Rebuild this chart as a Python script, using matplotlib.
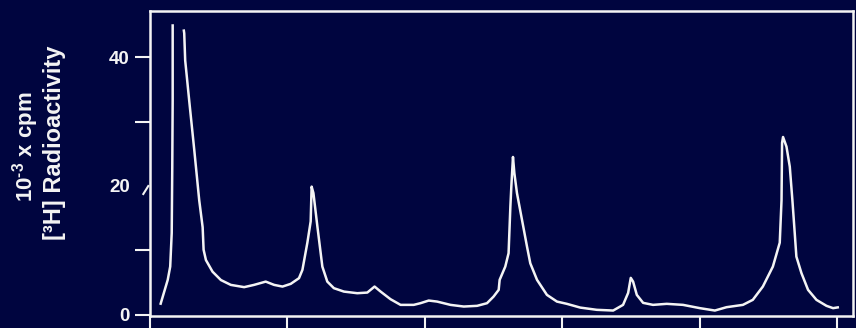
import numpy as np
import matplotlib
matplotlib.use("Agg")
import matplotlib.pyplot as plt
from matplotlib.lines import Line2D

plt.rcParams['font.family'] = ['Liberation Sans', 'DejaVu Sans']
plt.rcParams['mathtext.fontset'] = 'custom'
plt.rcParams['mathtext.rm'] = 'Liberation Sans:bold'
plt.rcParams['mathtext.bf'] = 'Liberation Sans:bold'
plt.rcParams['mathtext.it'] = 'Liberation Sans:bold'

# Fraction number (x) and radioactivity (10^-3 x cpm)
fraction = [0.75, 1.29, 1.47, 1.58, 1.62, 1.65, 1.65, 2.0,
            2.45, 2.49, 2.56, 2.85, 3.22, 3.58, 3.83, 3.90, 4.07, 4.55, 5.16, 5.88,
            6.85, 7.57, 8.42, 9.03, 9.64, 10.24, 10.84, 11.09, 11.45, 11.69, 11.76,
            11.89, 12.18, 12.54, 12.90, 13.38, 14.11, 15.08, 15.81, 16.05, 16.34,
            16.78, 17.50, 18.23, 19.19, 19.68, 20.28, 20.89, 21.86, 22.83, 23.80,
            24.52, 25.00, 25.37, 25.44, 25.85, 26.09, 26.22, 26.29, 26.41, 26.51,
            26.70, 27.07, 27.43, 27.67, 28.16, 28.88, 29.61, 30.33, 31.30, 32.51,
            33.70, 34.42, 34.79, 34.98, 35.15, 35.42, 35.88, 36.60, 37.60, 38.78,
            40.01, 41.10, 41.95, 43.14, 43.86, 44.59, 45.32, 45.82, 45.95, 45.99,
            46.06, 46.31, 46.55, 46.74, 46.91, 47.03, 47.40, 47.88, 48.49, 49.22,
            49.70, 50.13]
radioactivity = [1.55, 5.43, 7.49, 12.7, 22.9, 33.3, 45.1, np.nan,
                 44.3, 43.7, 39.5, 33.3, 25.6, 17.8, 13.6, 10.1, 8.5, 6.7, 5.4, 4.65,
                 4.3, 4.65, 5.16, 4.65, 4.39, 4.81, 5.69, 6.98, 11.2, 14.5, 19.9,
                 18.9, 13.7, 7.49, 5.16, 4.14, 3.61, 3.36, 3.46, 3.88, 4.39,
                 3.61, 2.43, 1.55, 1.55, 1.81, 2.22, 2.06, 1.55, 1.29, 1.40,
                 1.81, 2.84, 3.88, 5.43, 7.49, 9.57, 16.8, 19.9, 24.5, 22.0,
                 18.9, 14.7, 10.6, 8.0, 5.43, 3.10, 2.06, 1.71, 1.13, 0.78,
                 0.67, 1.55, 3.41, 5.74, 5.16, 3.10, 1.86, 1.55, 1.71, 1.55,
                 1.04, 0.67, 1.19, 1.55, 2.33, 4.39, 7.49, 11.2, 17.8, 26.7,
                 27.6, 26.1, 23.0, 17.8, 12.7, 9.04, 6.47, 3.88, 2.33, 1.40,
                 1.04, 1.19]

x_ticks = [0, 10, 20, 30, 40, 50]
y_major = [0, 20, 40]
y_minor = [10, 30]
y_tick_labels = ['0', '20', '40']
ylabel_line1 = r'10$^{\text{-3}}$ x cpm'
ylabel_line2 = '[\u00b3H] Radioactivity'

bg = '#00053f'
fg = '#f4f4f4'

W, H = 856, 328
fig = plt.figure(figsize=(W / 100, H / 100), dpi=100, facecolor=bg)
ax = fig.add_axes([150 / W, 12.5 / H, (853 - 150) / W, (317.3 - 12.5) / H])
ax.set_facecolor(bg)

ax.plot(fraction, radioactivity, color=fg, lw=1.8, solid_joinstyle='round',
        solid_capstyle='butt')

ax.set_xlim(0, 51.15)
ax.set_ylim(-0.1, 47.2)

ax.set_xticks(x_ticks)
ax.set_xticklabels([])
ax.set_yticks(y_major)
ax.set_yticklabels(y_tick_labels)
ax.set_yticks(y_minor, minor=True)

for s in ax.spines.values():
    s.set_color(fg)
    s.set_linewidth(1.8)

ax.tick_params(axis='y', which='both', direction='out', length=11, width=1.5,
               color=fg, labelcolor=fg, labelsize=13.5, pad=3.5)
ax.tick_params(axis='x', which='both', direction='out', length=8.5, width=1.5,
               color=fg)
for lab in ax.get_yticklabels():
    lab.set_fontweight('bold')
# the tick mark at 20 is replaced by a short slanted stroke in the original
ax.yaxis.get_major_ticks()[1].tick1line.set_visible(False)

fig.text(26 / W, 1 - 146.5 / H, ylabel_line1, rotation=90, color=fg,
         fontsize=16, fontweight='bold', ha='center', va='center')
fig.text(55 / W, 1 - 142.5 / H, ylabel_line2, rotation=90, color=fg,
         fontsize=17, fontweight='bold', ha='center', va='center')

# small stray stroke near the y axis
fig.add_artist(Line2D([143.3 / W, 148.3 / W], [1 - 194 / H, 1 - 186 / H],
                      color=fg, lw=1.5))

fig.savefig('out.png', dpi=100, facecolor=bg)
